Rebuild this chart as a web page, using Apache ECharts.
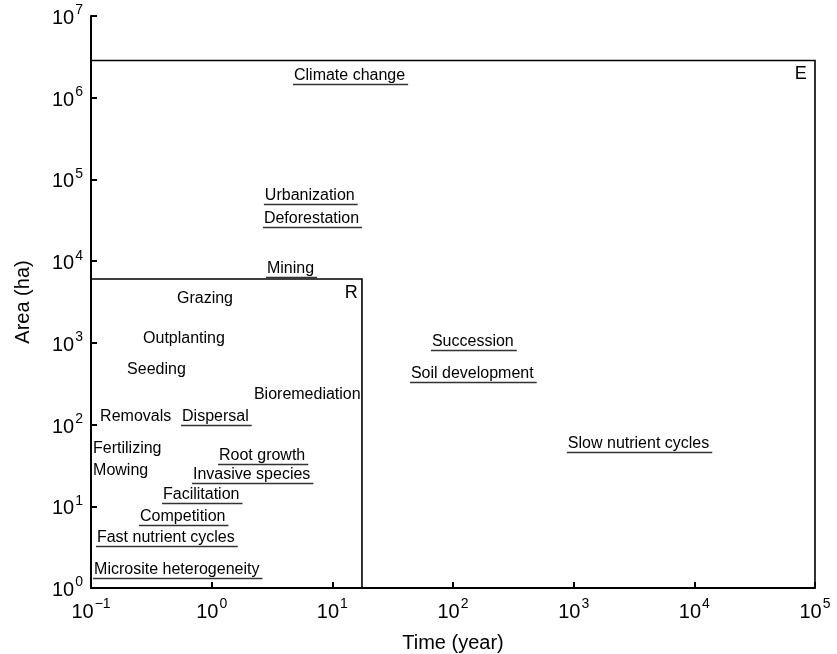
<!DOCTYPE html>
<html>
<head>
<meta charset="utf-8">
<script src="https://cdn.jsdelivr.net/npm/echarts@6/dist/echarts.min.js"></script>
<style>
html,body{margin:0;padding:0;background:#fff;}
#chart{width:837px;height:654px;}
</style>
</head>
<body>
<div id="chart"></div>
<script>
// ---- data ----
const labelNames = ['Climate change','Urbanization','Deforestation','Mining','Grazing','Outplanting','Seeding','Bioremediation','Removals','Dispersal','Fertilizing','Mowing','Root growth','Invasive species','Facilitation','Competition','Fast nutrient cycles','Microsite heterogeneity','Succession','Soil development','Slow nutrient cycles'];
const labelTime = [4.81, 2.76, 2.71, 2.87, 0.516, 0.270, 0.199, 2.24, 0.119, 0.568, 0.104, 0.104, 1.15, 0.700, 0.395, 0.255, 0.112, 0.106, 66.9, 44.8, 895];
const labelArea = [1.95e6, 6.64e4, 3.47e4, 8490, 3640, 1180, 492, 244, 131, 131, 53.2, 28.6, 43.6, 25.5, 14.5, 7.82, 4.33, 1.76, 1084, 440, 61.2];
const labelUnderlined = [1,1,1,1,0,0,0,0,0,1,0,0,1,1,1,1,1,1,1,1,1];

const boxNames = ['E', 'R'];
const boxTimeMax = [1e5, 17.6];
const boxAreaMax = [2.85e6, 6040];
const boxTagTime = [6.8e4, 12.7];
const boxTagArea = [2.01e6, 4195];

const xMin = 0.1, xMax = 1e5, yMin = 1, yMax = 1e7;

const FONT = "'Liberation Sans', Arial, Helvetica, sans-serif";
const ctx = document.createElement('canvas').getContext('2d');
function textWidth(t, size) { ctx.font = size + 'px ' + FONT; return ctx.measureText(t).width; }

const labelData = labelNames.map((n, i) => [labelTime[i], labelArea[i], i]);
const boxData = boxNames.map((n, i) => [boxTimeMax[i], boxAreaMax[i], boxTagTime[i], boxTagArea[i], i]);

function powLabel(v) {
  const e = Math.round(Math.log10(v));
  const s = e < 0 ? '\u2212' + (-e) : String(e);
  return '{b|10}{s|' + s + '}';
}
const richTick = {
  b: { fontSize: 20, fontFamily: FONT, color: '#000', verticalAlign: 'bottom', lineHeight: 25 },
  s: { fontSize: 14, fontFamily: FONT, color: '#000', verticalAlign: 'top', lineHeight: 25, padding: [0, 0, 0, 1] }
};

const chart = echarts.init(document.getElementById('chart'));
chart.setOption({
  animation: false,
  backgroundColor: '#fff',
  grid: { left: 91, right: 22, top: 16, bottom: 66, containLabel: false, outerBoundsMode: 'none' },
  xAxis: {
    type: 'log', logBase: 10, min: xMin, max: xMax, splitNumber: 6,
    name: 'Time (year)', nameLocation: 'middle', nameGap: 45,
    nameTextStyle: { fontSize: 20, fontFamily: FONT, color: '#000' },
    axisLine: { show: true, lineStyle: { color: '#000', width: 2 } },
    axisTick: { show: true, inside: true, length: 6, lineStyle: { color: '#000', width: 2 } },
    minorTick: { show: false },
    splitLine: { show: false },
    axisLabel: { margin: 9, formatter: powLabel, rich: richTick }
  },
  yAxis: {
    type: 'log', logBase: 10, min: yMin, max: yMax, splitNumber: 7,
    name: 'Area (ha)', nameLocation: 'middle', nameGap: 58,
    nameTextStyle: { fontSize: 20, fontFamily: FONT, color: '#000' },
    axisLine: { show: true, lineStyle: { color: '#000', width: 2 } },
    axisTick: { show: true, inside: true, length: 6, lineStyle: { color: '#000', width: 2 } },
    minorTick: { show: false },
    splitLine: { show: false },
    axisLabel: { margin: 8, formatter: powLabel, rich: richTick }
  },
  series: [
    {
      type: 'custom',
      coordinateSystem: 'cartesian2d',
      data: boxData,
      encode: { x: 0, y: 1 },
      renderItem: function (params, api) {
        const corner = api.coord([api.value(0), api.value(1)]);
        const origin = api.coord([xMin, yMin]);
        const tag = api.coord([api.value(2), api.value(3)]);
        const i = api.value(4);
        return {
          type: 'group',
          children: [
            { type: 'polyline', shape: { points: [[origin[0], corner[1]], [corner[0], corner[1]], [corner[0], origin[1]]] },
              style: { stroke: '#000', lineWidth: 1.6, fill: null } },
            { type: 'text', x: tag[0], y: tag[1] + 1.5,
              style: { text: boxNames[i], fontSize: 18, fontFamily: FONT, fill: '#000', align: 'left', verticalAlign: 'middle' } }
          ]
        };
      },
      z: 2
    },
    {
      type: 'custom',
      coordinateSystem: 'cartesian2d',
      data: labelData,
      encode: { x: 0, y: 1 },
      renderItem: function (params, api) {
        const p = api.coord([api.value(0), api.value(1)]);
        const i = api.value(2);
        const t = labelNames[i];
        const ty = p[1] + 1.5;
        const children = [
          { type: 'text', x: p[0], y: ty,
            style: { text: t, fontSize: 16, fontFamily: FONT, fill: '#000', align: 'left', verticalAlign: 'middle' } }
        ];
        if (labelUnderlined[i]) {
          const w = textWidth(t, 16);
          children.push({ type: 'line', shape: { x1: p[0] - 1, y1: ty + 9, x2: p[0] + w + 3, y2: ty + 9 },
            style: { stroke: '#333', lineWidth: 1.5 } });
        }
        return { type: 'group', children: children };
      },
      z: 3
    }
  ]
});
</script>
</body>
</html>
